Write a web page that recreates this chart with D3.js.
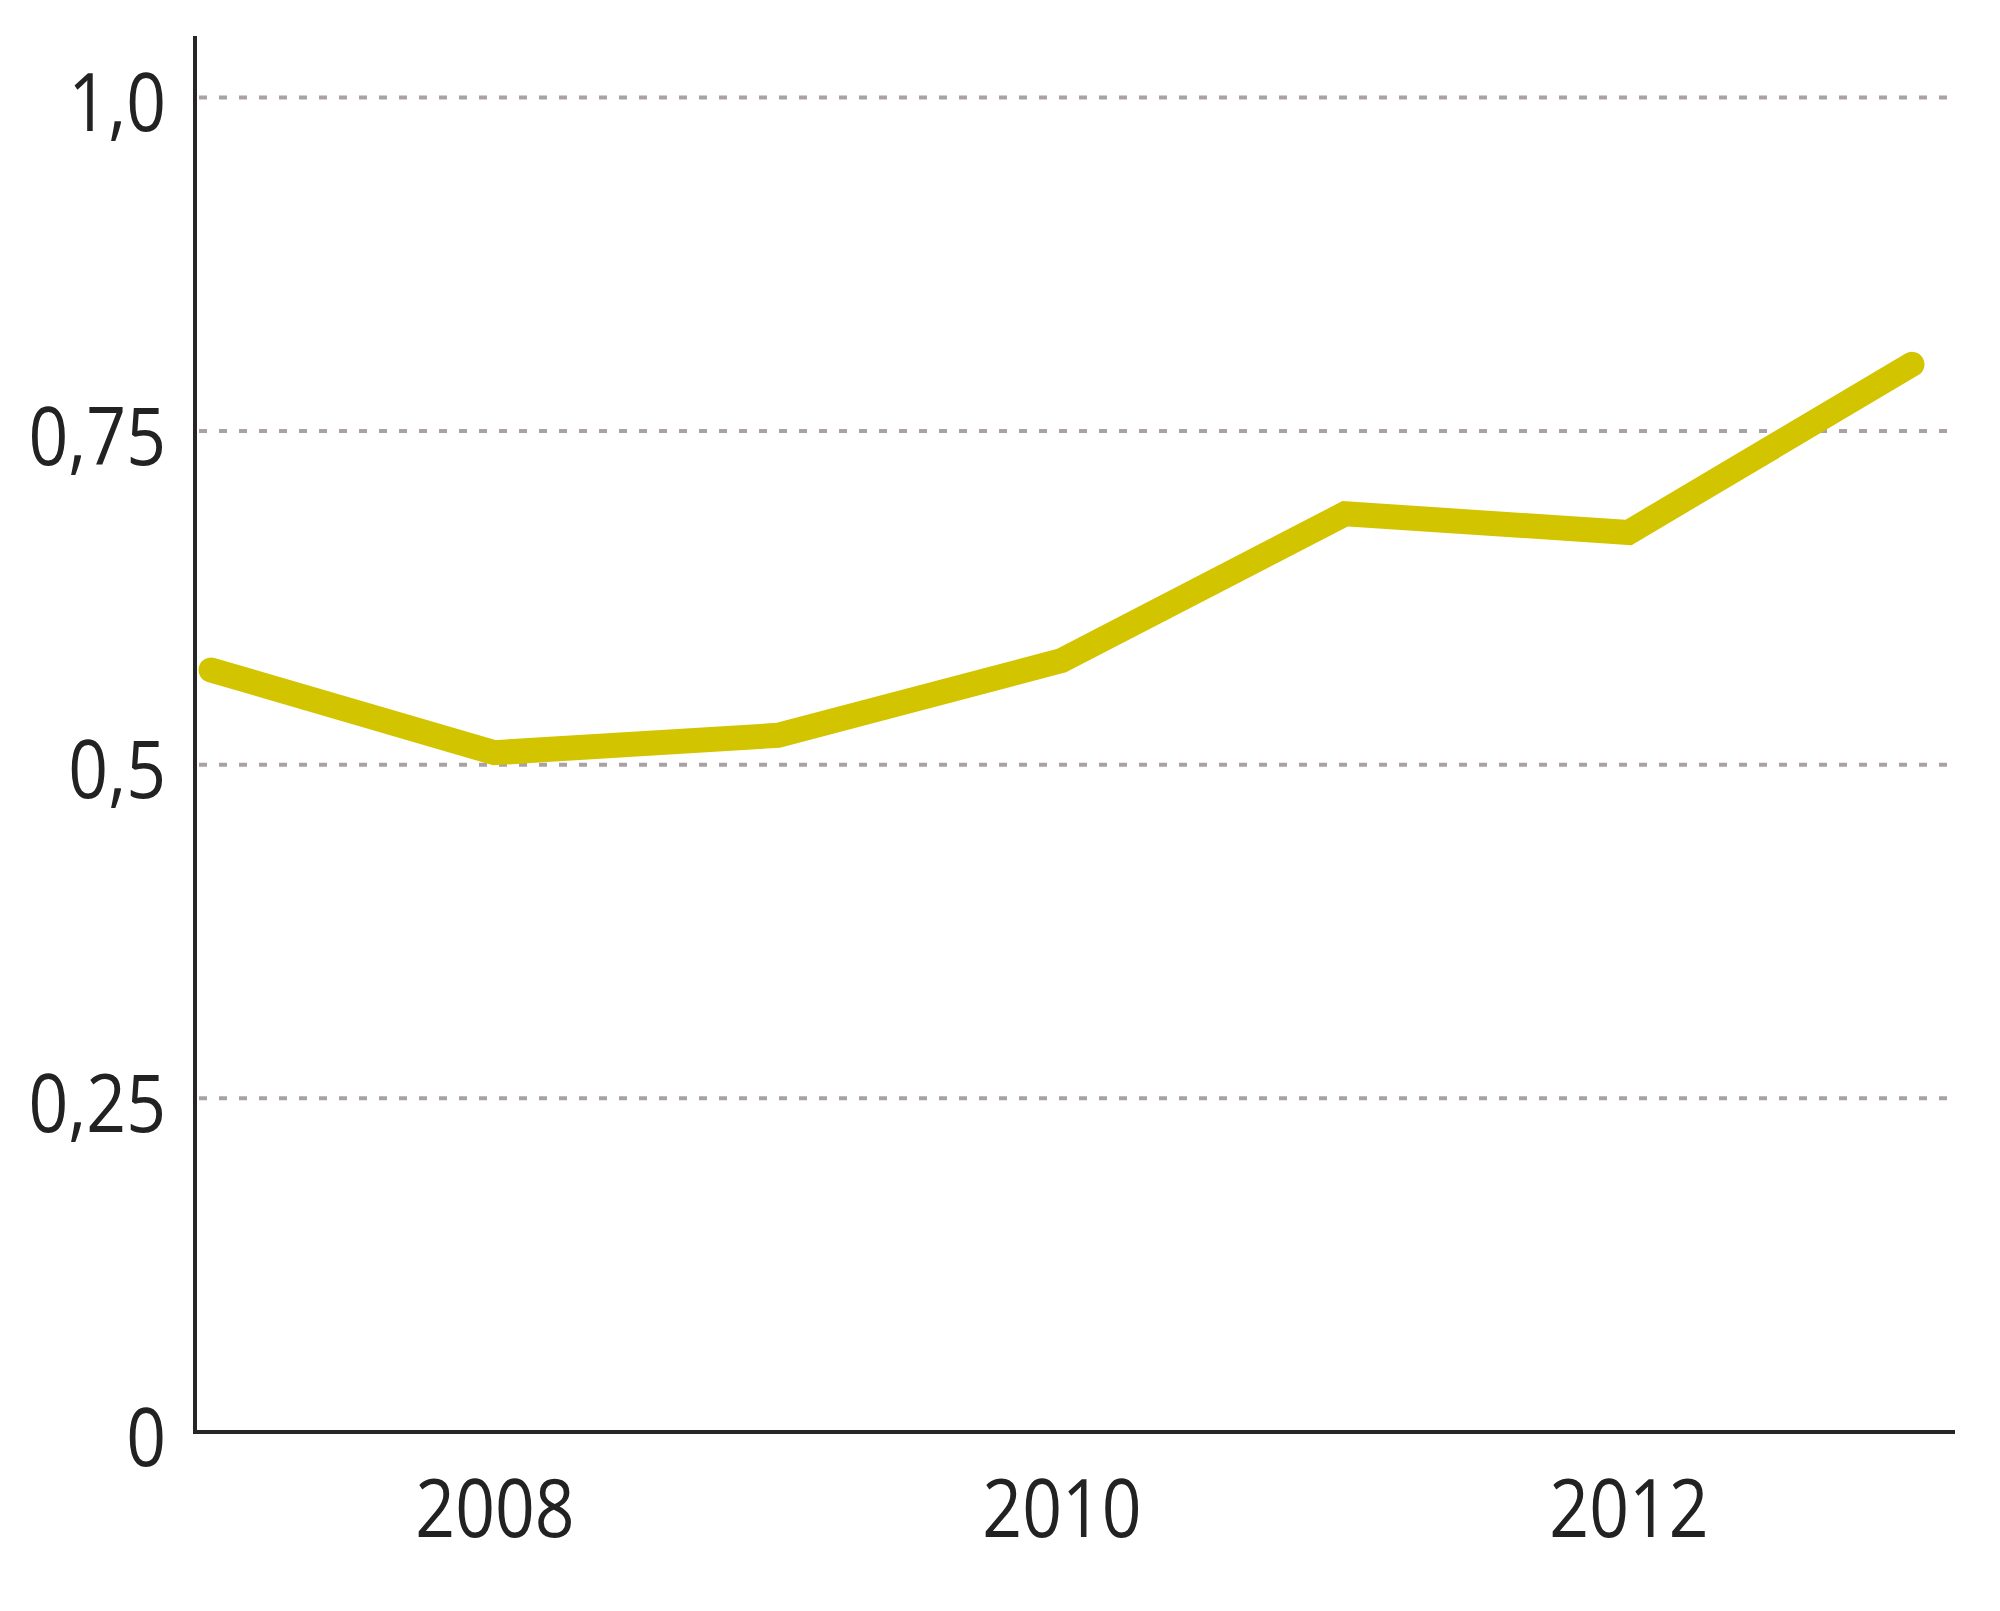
<!DOCTYPE html>
<html>
<head>
<meta charset="utf-8">
<script src="https://cdn.jsdelivr.net/npm/d3@7"></script>
<style>
  body { margin: 0; background: #fff; }
  .tick-label { font-family: "Open Sans", sans-serif; fill: #222; }
</style>
</head>
<body>
<div id="chart"></div>
<script>
// values
const years = [2007, 2008, 2009, 2010, 2011, 2012, 2013];
const values = [0.571, 0.509, 0.522, 0.578, 0.688, 0.674, 0.800];
const yTicks = [0, 0.25, 0.5, 0.75, 1.0];
const yTickLabels = ["0", "0,25", "0,5", "0,75", "1,0"];
const xTicks = [2008, 2010, 2012];

const margin = { top: 36, right: 40, bottom: 179, left: 195 };
const totalWidth = 2000;
const totalHeight = 1611;
const width = totalWidth - margin.left - margin.right;
const height = totalHeight - margin.top - margin.bottom;

const svg = d3
  .select("#chart")
  .append("svg")
  .attr("width", totalWidth)
  .attr("height", totalHeight)
  .append("g")
  .attr("transform", `translate(${margin.left},${margin.top})`);

// x scale: first and last year sit a little inside the frame
const xScale = d3.scaleLinear().domain([2007, 2013]).range([16, 1717]);
// axis line goes a bit above 1,0
const yScale = d3.scaleLinear().domain([0, 1.046]).range([height, 0]);

const squeeze = 0.86; // labels are a condensed face

// dotted gridlines
svg
  .selectAll(".grid")
  .data(yTicks.filter((d) => d > 0))
  .join("line")
  .attr("class", "grid")
  .attr("x1", 4)
  .attr("x2", width - 8)
  .attr("y1", (d) => yScale(d))
  .attr("y2", (d) => yScale(d))
  .attr("stroke", "#aaa1a5")
  .attr("stroke-width", 4)
  .attr("stroke-dasharray", "8 12");

// y labels
const yAxis = svg
  .append("g")
  .call(
    d3
      .axisLeft(yScale)
      .tickValues(yTicks)
      .tickSize(0)
      .tickFormat((d, i) => yTickLabels[i])
  );
yAxis.select(".domain").remove();
yAxis
  .selectAll("text")
  .attr("class", "tick-label")
  .attr("font-size", 81)
  .attr("x", -29 / squeeze)
  .attr("dy", "0.41em")
  .attr("transform", `scale(${squeeze},1)`);

// x labels
const xAxis = svg
  .append("g")
  .attr("transform", `translate(0,${height})`)
  .call(
    d3
      .axisBottom(xScale)
      .tickValues(xTicks)
      .tickSize(0)
      .tickFormat(d3.format("d"))
  );
xAxis.select(".domain").remove();
xAxis
  .selectAll(".tick text")
  .attr("class", "tick-label")
  .attr("font-size", 81)
  .attr("y", 105)
  .attr("dy", 0)
  .attr("transform", `scale(${squeeze},1)`);

// frame: left and bottom axis lines
svg
  .append("line")
  .attr("x1", 0)
  .attr("x2", 0)
  .attr("y1", 0)
  .attr("y2", height + 2)
  .attr("stroke", "#262626")
  .attr("stroke-width", 4);
svg
  .append("line")
  .attr("x1", -2)
  .attr("x2", width - 5)
  .attr("y1", height)
  .attr("y2", height)
  .attr("stroke", "#262626")
  .attr("stroke-width", 4);

// data line
const line = d3
  .line()
  .x((d, i) => xScale(years[i]))
  .y((d) => yScale(d));

svg
  .append("path")
  .datum(values)
  .attr("d", line)
  .attr("fill", "none")
  .attr("stroke", "#d3c400")
  .attr("stroke-width", 25)
  .attr("stroke-linecap", "round")
  .attr("stroke-linejoin", "miter");
</script>
</body>
</html>
